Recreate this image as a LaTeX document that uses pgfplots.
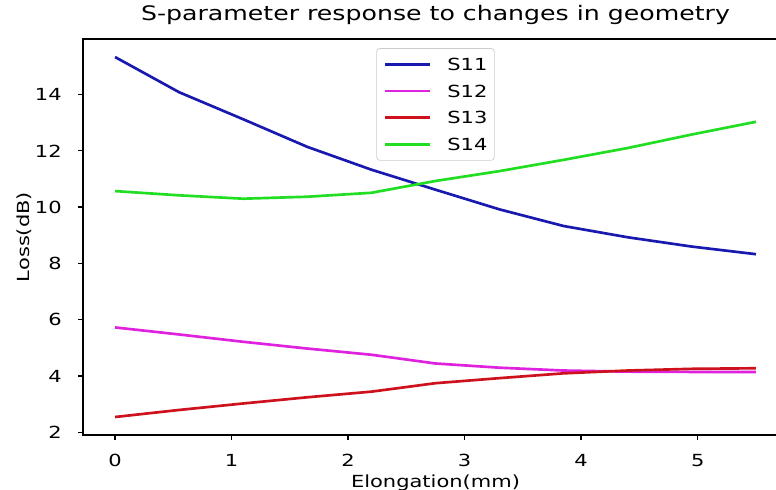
\documentclass[border=0pt]{standalone}
\usepackage{fontspec}
\setmainfont{DejaVu Sans}[FakeStretch=1.26]
\usepackage{pgfplots}
\pgfplotsset{compat=1.18}

\definecolor{cS11}{RGB}{25,25,175}
\definecolor{cS12}{RGB}{222,34,222}
\definecolor{cS13}{RGB}{205,18,30}
\definecolor{cS14}{RGB}{34,222,34}

\begin{document}
\begin{tikzpicture}
% frame of the whole picture (the reference is cut at the right)
\path[use as bounding box] (-49.8pt,-33pt) rectangle (415.8pt,261pt);
\begin{axis}[
  at={(0pt,0pt)}, anchor=south west,
  scale only axis, width=423pt, height=237.6pt,
  xmin=-0.275, xmax=5.775, ymin=1.911, ymax=15.97,
  xtick={0,1,2,3,4,5}, ytick={2,4,6,8,10,12,14},
  tick pos=left, tick align=outside, major tick length=3pt,
  tick style={black, line width=0.8pt},
  axis line style={line width=0.8pt},
  /pgf/number format/assume math mode=true,
  ticklabel style={font=\fontsize{10}{12}\selectfont},
  xticklabel style={anchor=base, inner sep=0pt, yshift=-16pt},
  yticklabel style={anchor=east, inner sep=0pt, xshift=-9.6pt},
  title={S-parameter response to changes in geometry},
  title style={at={(axis description cs:0.5,1.0227)}, anchor=base, inner sep=0pt,
    font=\fontsize{12}{14}\selectfont},
  xlabel={Elongation(mm)},
  xlabel style={at={(axis description cs:0.5,-0.132)}, anchor=base, inner sep=0pt,
    font=\fontsize{10}{12}\selectfont},
  ylabel={Loss(dB)},
  ylabel style={at={(axis description cs:-0.0752,0.5)}, rotate=0, anchor=base, inner sep=0pt,
    font=\fontsize{10}{12}\selectfont},
  legend image code/.code={\draw[#1, line width=1.6pt] (0pt,0pt) -- (27pt,0pt);},
  legend style={at={(axis description cs:0.5,0.977)}, anchor=north,
    draw=black!20, rounded corners=2pt, fill=white,
    inner xsep=4.2pt, inner ysep=6pt, row sep=8.5pt, column sep=9.6pt,
    font=\fontsize{10}{12}\selectfont,
    nodes={inner sep=0pt, text depth=0pt}},
  legend cell align=left,
  every axis plot/.append style={line width=1.6pt, line join=round},
]
\addplot[cS11] coordinates {
  (0,15.33) (0.55,14.08) (1.1,13.12) (1.65,12.14) (2.2,11.33) (2.75,10.62)
  (3.3,9.92) (3.85,9.33) (4.4,8.93) (4.95,8.6) (5.5,8.33)};
\addlegendentry{S11}
\addplot[cS12] coordinates {
  (0,5.73) (0.55,5.48) (1.1,5.22) (1.65,4.98) (2.2,4.76) (2.75,4.45)
  (3.3,4.3) (3.85,4.2) (4.4,4.16) (4.95,4.15) (5.5,4.15)};
\addlegendentry{S12}
\addplot[cS13] coordinates {
  (0,2.55) (0.55,2.8) (1.1,3.03) (1.65,3.25) (2.2,3.45) (2.75,3.75)
  (3.3,3.93) (3.85,4.1) (4.4,4.2) (4.95,4.26) (5.5,4.28)};
\addlegendentry{S13}
\addplot[cS14] coordinates {
  (0,10.57) (0.55,10.42) (1.1,10.3) (1.65,10.37) (2.2,10.51) (2.75,10.93)
  (3.3,11.28) (3.85,11.68) (4.4,12.1) (4.95,12.58) (5.5,13.03)};
\addlegendentry{S14}
\end{axis}
\end{tikzpicture}
\end{document}
